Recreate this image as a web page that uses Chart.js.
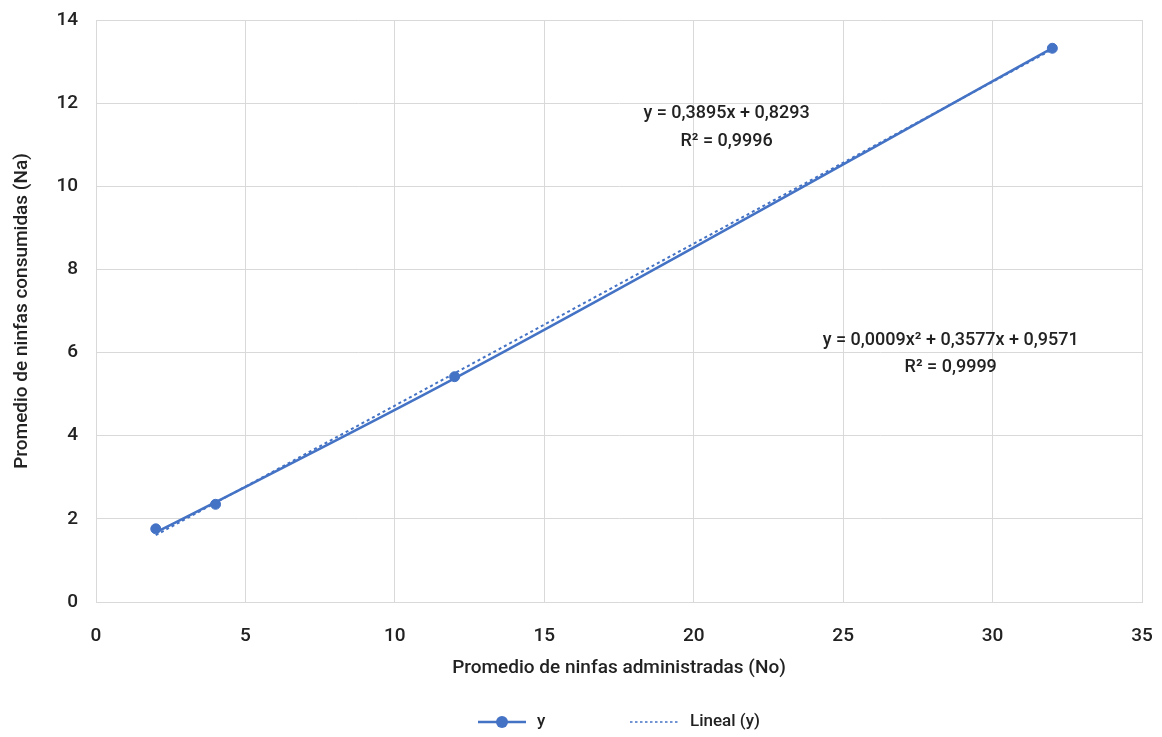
<!DOCTYPE html>
<html>
<head>
<meta charset="utf-8">
<script src="https://cdn.jsdelivr.net/npm/chart.js@4/dist/chart.umd.min.js"></script>
<style>
  html, body { margin: 0; padding: 0; background: #fff; }
  #wrap { width: 1162px; height: 737px; position: relative; }
</style>
</head>
<body>
<div id="wrap"><canvas id="c" width="1162" height="737"></canvas></div>
<script>
// Observed series: nymphs offered (x) vs nymphs consumed (y)
const xValues = [2, 4, 12, 32];
const yValues = [1.76, 2.35, 5.42, 13.32];

// Trend equations as stated by their labels
const linearCoef = [0.3895, 0.8293];            // slope, intercept
const polyCoef = [0.0009, 0.3577, 0.9571];      // a, b, c  (a·x² + b·x + c)
const trendX = [2, 32];

// Trend equation labels and their anchor points (data units)
const labelLines = [
  'y = 0,3895x + 0,8293', 'R² = 0,9996',
  'y = 0,0009x² + 0,3577x + 0,9571', 'R² = 0,9999'
];
const labelX = [21.1, 21.1, 28.6, 28.6];
const labelY = [11.75, 11.08, 6.3, 5.65];

const xTicks = [0, 5, 10, 15, 20, 25, 30, 35];
const yTicks = [0, 2, 4, 6, 8, 10, 12, 14];

const legendNames = ['y', 'Lineal (y)'];

const BLUE = '#4472C4';
const GRID = '#d9d9d9';
const TEXT = '#222222';
const FONT = 'Roboto, "Liberation Sans", sans-serif';

const seriesPoints = xValues.map((x, i) => ({ x: x, y: yValues[i] }));
const linearPoints = trendX.map(x => ({ x: x, y: linearCoef[0] * x + linearCoef[1] }));
const polyPoints = xValues.map(x => ({ x: x, y: polyCoef[0] * x * x + polyCoef[1] * x + polyCoef[2] }));

const equationLabels = {
  id: 'equationLabels',
  afterDatasetsDraw(chart) {
    const { ctx, scales } = chart;
    ctx.save();
    ctx.font = '500 18px ' + FONT;
    ctx.fillStyle = TEXT;
    ctx.textAlign = 'center';
    ctx.textBaseline = 'middle';
    labelLines.forEach((t, i) => {
      ctx.fillText(t, scales.x.getPixelForValue(labelX[i]), scales.y.getPixelForValue(labelY[i]));
    });
    ctx.restore();
  }
};

const bottomLegend = {
  id: 'bottomLegend',
  afterDraw(chart) {
    const { ctx } = chart;
    const y = 722;
    ctx.save();
    // series entry: line with marker
    ctx.strokeStyle = BLUE;
    ctx.lineWidth = 2.5;
    ctx.beginPath(); ctx.moveTo(478, y); ctx.lineTo(526, y); ctx.stroke();
    ctx.fillStyle = BLUE;
    ctx.beginPath(); ctx.arc(502, y, 6, 0, Math.PI * 2); ctx.fill();
    // trend entry: dotted line
    ctx.lineWidth = 1.5;
    ctx.setLineDash([2.5, 2.5]);
    ctx.beginPath(); ctx.moveTo(630, y); ctx.lineTo(680, y); ctx.stroke();
    ctx.setLineDash([]);
    ctx.font = '500 17px ' + FONT;
    ctx.fillStyle = TEXT;
    ctx.textAlign = 'left';
    ctx.textBaseline = 'middle';
    ctx.fillText(legendNames[0], 537, y);
    ctx.fillText(legendNames[1], 690, y);
    ctx.restore();
  }
};

new Chart(document.getElementById('c'), {
  type: 'scatter',
  data: {
    datasets: [
      {
        label: legendNames[0],
        data: seriesPoints,
        showLine: false,
        borderColor: BLUE,
        backgroundColor: BLUE,
        pointRadius: 5,
        pointHoverRadius: 5,
        order: 0
      },
      {
        label: 'Polinómica (y)',
        data: polyPoints,
        showLine: true,
        borderColor: BLUE,
        borderWidth: 2.5,
        pointRadius: 0,
        cubicInterpolationMode: 'monotone',
        order: 1
      },
      {
        label: legendNames[1],
        data: linearPoints,
        showLine: true,
        borderColor: BLUE,
        borderWidth: 2,
        borderDash: [3, 3],
        pointRadius: 0,
        order: 2
      }
    ]
  },
  options: {
    responsive: false,
    animation: false,
    events: [],
    layout: { padding: { left: 10, right: 20, top: 20, bottom: 45 } },
    plugins: { legend: { display: false }, tooltip: { enabled: false } },
    scales: {
      x: {
        type: 'linear',
        min: 0, max: 35,
        afterBuildTicks: s => { s.ticks = xTicks.map(v => ({ value: v })); },
        afterFit: s => { s.height = 90; s.paddingLeft = 0; s.paddingRight = 0; },
        grid: { color: GRID, lineWidth: 1, drawTicks: false },
        border: { color: GRID, width: 1 },
        ticks: { color: TEXT, padding: 23, font: { family: FONT, size: 19, weight: '500' } },
        title: {
          display: true,
          text: 'Promedio de ninfas administradas (No)',
          color: TEXT,
          font: { family: FONT, size: 19, weight: '500' },
          padding: { top: 4, bottom: 12 }
        }
      },
      y: {
        type: 'linear',
        min: 0, max: 14,
        afterBuildTicks: s => { s.ticks = yTicks.map(v => ({ value: v })); },
        afterFit: s => { s.width = 86; s.paddingTop = 0; s.paddingBottom = 0; },
        grid: { color: GRID, lineWidth: 1, drawTicks: false },
        border: { color: GRID, width: 1 },
        ticks: { color: TEXT, padding: 18, font: { family: FONT, size: 19, weight: '500' } },
        title: {
          display: true,
          text: 'Promedio de ninfas consumidas (Na)',
          color: TEXT,
          font: { family: FONT, size: 19, weight: '500' },
          padding: { top: 1, bottom: 0 }
        }
      }
    }
  },
  plugins: [equationLabels, bottomLegend]
});
</script>
</body>
</html>
